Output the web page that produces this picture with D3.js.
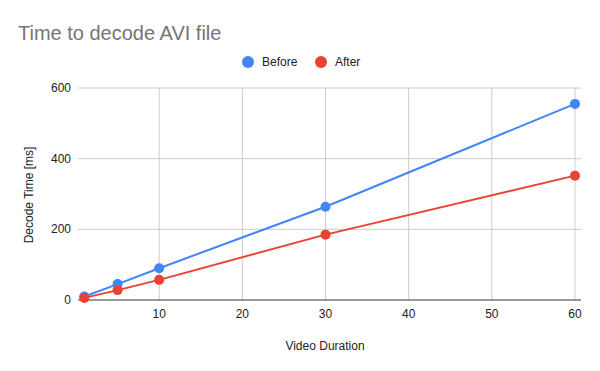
<!DOCTYPE html>
<html lang="en">
<head>
  <meta charset="UTF-8">
  <script src="https://d3js.org/d3.v7.min.js"></script>
  <title>Time to decode AVI file</title>
  <style>
    body { margin: 0; background: #fff; }
    text { font-family: Arial, "Liberation Sans", sans-serif; }
  </style>
</head>
<body>
<script>
  // data
  const durations = [1, 5, 10, 30, 60]
  const before = [10, 45, 90, 264, 555]
  const after = [6, 28, 57, 185, 352]
  const xTicks = [10, 20, 30, 40, 50, 60]
  const yTicks = [0, 200, 400, 600]

  const width = 600
  const height = 371
  const plotLeft = 76, plotRight = 575, plotTop = 88, plotBottom = 300

  const svg = d3.select("body").append("svg")
    .attr("width", width)
    .attr("height", height)

  svg.append("rect").attr("width", width).attr("height", height).attr("fill", "#fff")

  const x = d3.scaleLinear().domain([0, 60]).range([plotLeft, plotRight])
  const y = d3.scaleLinear().domain([0, 600]).range([plotBottom, plotTop])

  // grid
  svg.append("g").selectAll("line").data(yTicks.filter(d => d > 0)).enter().append("line")
    .attr("x1", plotLeft + 2).attr("x2", 581)
    .attr("y1", d => y(d)).attr("y2", d => y(d))
    .attr("stroke", "#cccccc").attr("stroke-width", 1)
  svg.append("g").selectAll("line").data(xTicks).enter().append("line")
    .attr("x1", d => x(d)).attr("x2", d => x(d))
    .attr("y1", plotTop).attr("y2", plotBottom)
    .attr("stroke", "#cccccc").attr("stroke-width", 1)

  // baseline
  svg.append("line")
    .attr("x1", plotLeft + 2).attr("x2", 581)
    .attr("y1", y(0)).attr("y2", y(0))
    .attr("stroke", "#333333").attr("stroke-width", 1)

  // tick labels
  svg.append("g").selectAll("text").data(yTicks).enter().append("text")
    .attr("x", 71).attr("y", d => y(d) + 4)
    .attr("text-anchor", "end")
    .attr("font-size", 12).attr("fill", "#222")
    .text(d => d)
  svg.append("g").selectAll("text").data(xTicks).enter().append("text")
    .attr("x", d => x(d)).attr("y", 318)
    .attr("text-anchor", "middle")
    .attr("font-size", 12).attr("fill", "#222")
    .text(d => d)

  // series
  const series = [
    { name: "Before", values: before, color: "#4285f4" },
    { name: "After", values: after, color: "#ea4335" }
  ]
  const line = d3.line().x(d => x(d[0])).y(d => y(d[1]))

  series.forEach(function(s) {
    const pts = durations.map((d, i) => [d, s.values[i]])
    svg.append("path")
      .datum(pts)
      .attr("d", line)
      .attr("fill", "none")
      .attr("stroke", s.color)
      .attr("stroke-width", 2)
    svg.append("g").selectAll("circle").data(pts).enter().append("circle")
      .attr("cx", d => x(d[0])).attr("cy", d => y(d[1]))
      .attr("r", 5)
      .attr("fill", s.color)
  })

  // title
  svg.append("text")
    .attr("x", 18).attr("y", 40)
    .attr("font-size", 20).attr("fill", "#757575")
    .text("Time to decode AVI file")

  // legend
  const legendX = [248, 321]
  series.forEach(function(s, i) {
    svg.append("circle")
      .attr("cx", legendX[i]).attr("cy", 62).attr("r", 6)
      .attr("fill", s.color)
    svg.append("text")
      .attr("x", legendX[i] + 14).attr("y", 66)
      .attr("font-size", 12).attr("fill", "#222")
      .text(s.name)
  })

  // axis titles
  svg.append("text")
    .attr("x", 325).attr("y", 350)
    .attr("text-anchor", "middle")
    .attr("font-size", 12).attr("fill", "#222")
    .text("Video Duration")
  svg.append("text")
    .attr("transform", "translate(33,195) rotate(-90)")
    .attr("text-anchor", "middle")
    .attr("font-size", 12).attr("fill", "#222")
    .text("Decode Time [ms]")
</script>
</body>
</html>
